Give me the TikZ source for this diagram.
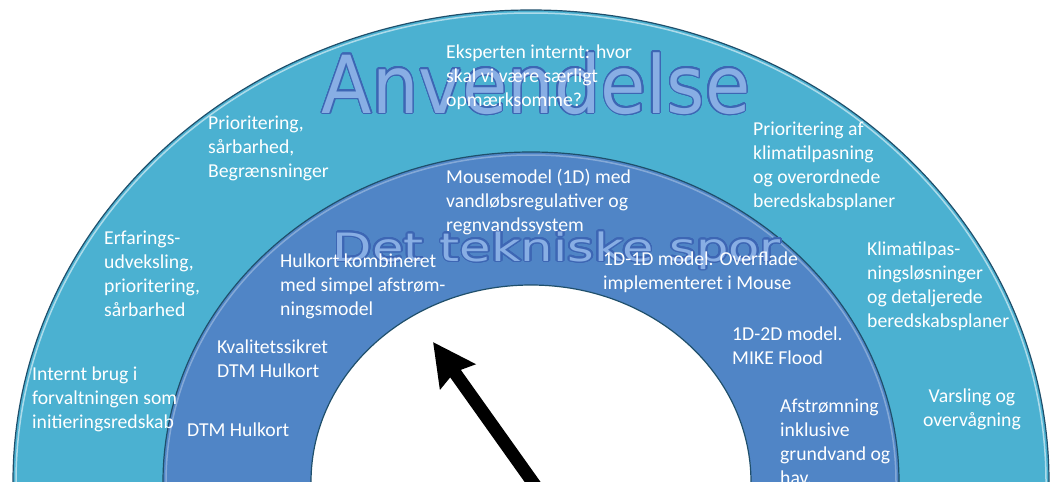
\documentclass[tikz,border=0pt]{standalone}
\usepackage{fontspec}
\usepackage{graphicx}
\usepackage{contour}
\setmainfont{Carlito}
\newfontfamily\wordart{DejaVu Sans}
\usetikzlibrary{arrows.meta}
\definecolor{aquaring}{HTML}{4BB1D1}
\definecolor{bluering}{HTML}{5085C6}
\definecolor{ringedge}{HTML}{1F4F6B}
\definecolor{artfill}{HTML}{88AEE4}
\definecolor{artedge}{HTML}{3D66B4}
\contourlength{1.4pt}
\contournumber{24}

\begin{document}
\begin{tikzpicture}[x=1pt,y=-1pt,
    ring/.style={draw=ringedge,line width=1.2pt},
    shine/.style={line width=1.5pt,white,opacity=.55},
    txt/.style={anchor=north west,inner sep=0pt,align=left,text=white,yshift=-3pt,
      font=\fontsize{19.7}{24}\selectfont,execute at begin node=\strut},
    art/.style={anchor=base,inner sep=0pt,text=artfill}]
  \useasboundingbox (0,0) rectangle (1050,482);
  \clip (0,0) rectangle (1050,482);
  \coordinate (mid) at (531,482);
  % the two rings and the hole
  \fill[aquaring,ring] (mid) ellipse [x radius=518pt,y radius=472pt];
  \draw[shine] (mid) ellipse [x radius=515pt,y radius=469pt];
  \fill[bluering,ring] (mid) ellipse [x radius=368pt,y radius=330pt];
  \draw[shine,opacity=.3] (mid) ellipse [x radius=365pt,y radius=327pt];
  \fill[white,ring] (mid) ellipse [x radius=220pt,y radius=197pt];
  % headlines
  \node[art,font=\wordart\fontsize{80}{80}\selectfont] (anvend) at (536,113)
    {\scalebox{0.92}[1]{\contour{artedge}{Anvendelse}}};
  \node[art,font=\wordart\fontsize{39}{39}\selectfont] (teknisk) at (557,261)
    {\scalebox{1.31}[1]{\contour{artedge}{Det tekniske spor}}};
  % outer ring
  \node[txt] (eksperten) at (446,42) {Eksperten internt: hvor\\skal vi være særligt\\opmærksomme?};
  \node[txt] (prio) at (208,113) {Prioritering,\\sårbarhed,\\Begrænsninger};
  \node[txt] (prioaf) at (753,119) {Prioritering af\\klimatilpasning\\og overordnede\\beredskabsplaner};
  \node[txt] (erfaring) at (104,228) {Erfarings-\\udveksling,\\prioritering,\\sårbarhed};
  \node[txt] (klima) at (867,239) {Klimatilpas-\\ningsløsninger\\og detaljerede\\beredskabsplaner};
  \node[txt] (internt) at (32,364) {Internt brug i\\forvaltningen som\\initieringsredskab};
  \node[txt,anchor=north,align=center] (varsling) at (972,386) {Varsling og\\overvågning};
  % inner ring
  \node[txt] (mouse) at (446,166) {Mousemodel (1D) med\\vandløbsregulativer og\\regnvandssystem};
  \node[txt] (hulkort) at (280,251) {Hulkort kombineret\\med simpel afstrøm-\\ningsmodel};
  \node[txt] (oneone) at (603,249) {1D-1D model. Overflade\\implementeret i Mouse};
  \node[txt] (onetwo) at (732,324) {1D-2D model.\\MIKE Flood};
  \node[txt] (kvalitet) at (217,337) {Kvalitetssikret\\DTM Hulkort};
  \node[txt] (dtm) at (187,416) {DTM Hulkort};
  \node[txt] (afstroem) at (780,396) {Afstrømning\\inklusive\\grundvand og\\hav.};
  % pointer
  \coordinate (tail) at (544,498);
  \coordinate (tip) at (433,342);
  \draw[line width=13pt,-{Stealth[length=42pt,width=42pt,inset=5pt]}] (tail) -- (tip);
\end{tikzpicture}
\end{document}
